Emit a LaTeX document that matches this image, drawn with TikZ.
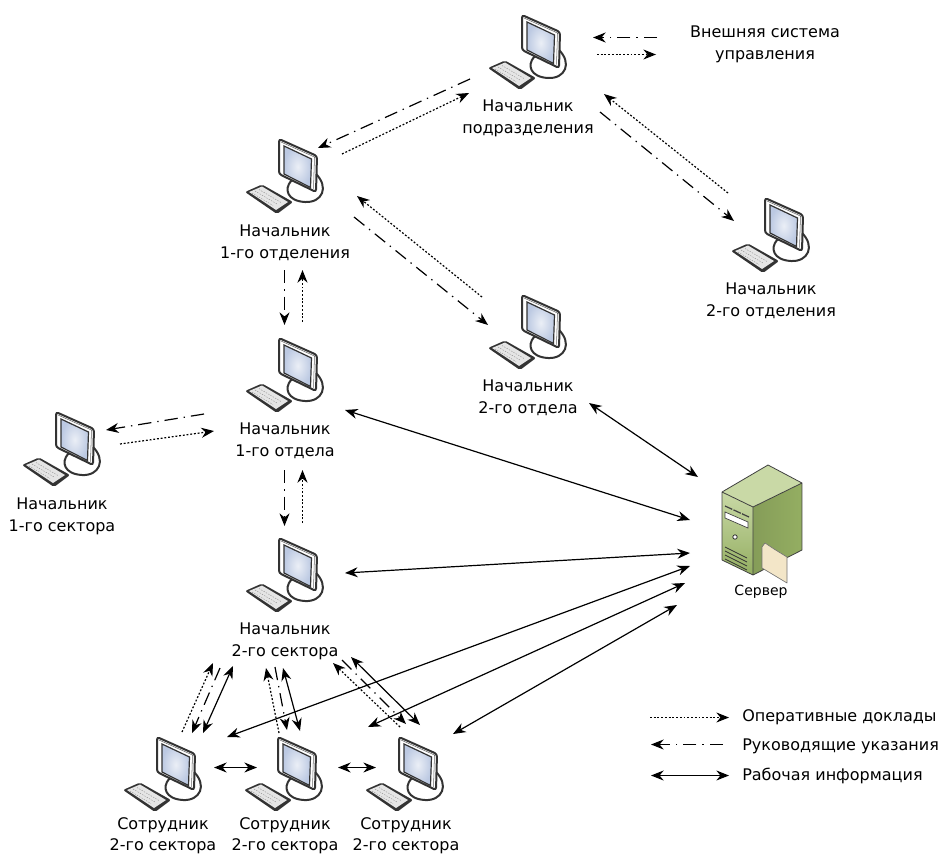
\documentclass[tikz,border=0pt]{standalone}
\usepackage{fontspec}
\setmainfont{DejaVu Sans}
\usetikzlibrary{arrows.meta,calc}

\definecolor{cframe}{HTML}{333333}
\definecolor{cscreen}{HTML}{BCC9E2}
\definecolor{cgreen}{HTML}{94AE62}
\definecolor{cgreenl}{HTML}{C9D9A6}
\definecolor{cfolder}{HTML}{F3E6C8}

\tikzset{
  lbl/.style={font=\fontsize{12}{16.5}\selectfont,align=center,inner sep=0pt},
  tipped/.style={line width=0.9pt,-{Stealth[length=9.5pt,width=7.5pt]}},
  report/.style={tipped,dash pattern=on 1.4pt off 1.4pt},
  order/.style={tipped,dash pattern=on 10pt off 4.5pt on 1pt off 4.5pt},
  work/.style={line width=0.9pt,{Stealth[length=9.5pt,width=7.5pt]}-{Stealth[length=9.5pt,width=7.5pt]}},
  comp/.pic={
    \draw[cframe,line width=1.5pt,fill=white] (12,42) .. controls (5,50) and (8,62) .. (26,63)
      .. controls (43,64) and (51,48) .. (36,34) -- cycle;
    \fill[cframe,rounded corners=1.5pt] (-34,53) -- (-17,45.5) -- (14,63) -- (-2,75) -- cycle;
    \fill[black!10] (-30,53) -- (-17,47.5) -- (9,63) -- (-3,71) -- cycle;
    \draw[black!45,line width=0.3pt,dash pattern=on 1pt off 1pt] (-24,52) -- (-2,65) (-20,50.5) -- (2,63.5) (-27,54) -- (-6,66.5);
    \draw[cframe,line width=1.5pt,fill=white,rounded corners=2pt] (0,0) -- (38,17) -- (37,53) -- (0,35) -- cycle;
    \draw[black!60,line width=0.4pt] (2,3) -- (35.5,18) -- (34.5,49.5);
    \shade[inner color=cscreen!30,outer color=cscreen,draw=cframe,line width=0.9pt] (5,7) -- (32.5,20) -- (31.5,48.5) -- (5,35) -- cycle;
  },
  srv/.pic={
    \shade[left color=cgreen!90!black,right color=cgreen] (80,-9) -- (80,58) -- (31,83) -- (31,15) -- cycle;
    \fill[cgreenl] (46,-27) -- (80,-9) -- (31,15) -- (0,0) -- cycle;
    \shade[top color=cgreenl,bottom color=cgreen] (0,0) -- (31,15) -- (31,83) -- (0,68) -- cycle;
    \draw[black!75,line width=0.6pt,line join=round] (0,0) -- (46,-27) -- (80,-9) -- (80,58) -- (31,83) -- (0,68) -- cycle (0,0) -- (31,15) -- (80,-9) (31,15) -- (31,83);
    \draw[black!75,line width=0.9pt,dash pattern=on 6pt off 1pt] (3,14) -- (27,25);
    \draw[black!75,line width=0.5pt,fill=white] (3,20) -- (26,30) -- (26,36) -- (3,26) -- cycle;
    \draw[black!80,line width=0.6pt,fill=white] (13,45) circle (2.2);
    \draw[black!80,line width=0.6pt] (3,55) -- (25,66) (3,59) -- (25,70) (3,63) -- (25,74) (3,67) -- (25,78);
    \draw[black!55,line width=0.5pt,fill=cfolder,line join=round] (40,55) -- (43,51) -- (52,57) -- (65,65) -- (65,91) -- (40,76) -- cycle;
  },
}

\begin{document}
\begin{tikzpicture}[x=0.75pt,y=-0.75pt]
\useasboundingbox (0,0) rectangle (941,856);

\pic (pcPodr) at (522,15) {comp};
\pic (pcOtdn) at (279,139) {comp};
\pic (pcOtdb) at (765,198) {comp};
\pic (pcOtlb) at (522,295) {comp};
\pic (pcOtla) at (279,338) {comp};
\pic (pcSeca) at (56,412) {comp};
\pic (pcSecb) at (279,538) {comp};
\pic (pcEmpa) at (157,737) {comp};
\pic (pcEmpb) at (278,737) {comp};
\pic (pcEmpc) at (399,737) {comp};
\pic (pcSrv) at (722,492) {srv};

\node[lbl] (Podr) at (528,118) {Начальник\\подразделения};
\node[lbl] (Otdn) at (285,243) {Начальник\\1-го отделения};
\node[lbl] (Otdb) at (771,301) {Начальник\\2-го отделения};
\node[lbl] (Otlb) at (528,398) {Начальник\\2-го отдела};
\node[lbl] (Otla) at (285,441) {Начальник\\1-го отдела};
\node[lbl] (Seca) at (62,516) {Начальник\\1-го сектора};
\node[lbl] (Secb) at (285,641) {Начальник\\2-го сектора};
\node[lbl,font=\fontsize{12}{15.5}\selectfont] (Empa) at (163,836) {Сотрудник\\2-го сектора};
\node[lbl,font=\fontsize{12}{15.5}\selectfont] (Empb) at (285,836) {Сотрудник\\2-го сектора};
\node[lbl,font=\fontsize{12}{15.5}\selectfont] (Empc) at (406,836) {Сотрудник\\2-го сектора};
\node[lbl,font=\fontsize{10.5}{12}\selectfont] (Srv) at (761,592) {Сервер};
\node[lbl] (Ext) at (765,44) {Внешняя система\\управления};

\node[lbl,anchor=west] (LgRep) at (742,717) {Оперативные доклады};
\node[lbl,anchor=west] (LgOrd) at (742,746) {Руководящие указания};
\node[lbl,anchor=west] (LgWrk) at (742,776) {Рабочая информация};

% external system
\coordinate (ExtOa) at (657,37.5);
\coordinate (ExtOb) at (593,37.5);
\coordinate (ExtRa) at (597,54.5);
\coordinate (ExtRb) at (656,54.5);
\draw[order] (ExtOa) -- (ExtOb);
\draw[report] (ExtRa) -- (ExtRb);

% head to departments
\coordinate (PaOa) at (470,79);
\coordinate (PaOb) at (318,148);
\coordinate (PaRa) at (342,154);
\coordinate (PaRb) at (469,93);
\draw[order] (PaOa) -- (PaOb);
\draw[report] (PaRa) -- (PaRb);

\coordinate (PbRa) at (728,193);
\coordinate (PbRb) at (604,94);
\coordinate (PbOa) at (600,112);
\coordinate (PbOb) at (734,221);
\draw[report] (PbRa) -- (PbRb);
\draw[order] (PbOa) -- (PbOb);

\coordinate (NbRa) at (482,297);
\coordinate (NbRb) at (357,196);
\coordinate (NbOa) at (354,217);
\coordinate (NbOb) at (488,325);
\draw[report] (NbRa) -- (NbRb);
\draw[order] (NbOa) -- (NbOb);

\coordinate (NaOa) at (284.5,270);
\coordinate (NaOb) at (284.5,325);
\coordinate (NaRa) at (302.5,322);
\coordinate (NaRb) at (302.5,270);
\draw[order] (NaOa) -- (NaOb);
\draw[report] (NaRa) -- (NaRb);

\coordinate (LaOa) at (204,414);
\coordinate (LaOb) at (106,430);
\coordinate (LaRa) at (120,444);
\coordinate (LaRb) at (214,431);
\draw[order] (LaOa) -- (LaOb);
\draw[report] (LaRa) -- (LaRb);

\coordinate (LbOa) at (284.5,470);
\coordinate (LbOb) at (284.5,526);
\coordinate (LbRa) at (302.5,523);
\coordinate (LbRb) at (302.5,470);
\draw[order] (LbOa) -- (LbOb);
\draw[report] (LbRa) -- (LbRb);

% sector to staff
\coordinate (EaRa) at (182,732);
\coordinate (EaRb) at (213,663);
\coordinate (EaOa) at (220,668);
\coordinate (EaOb) at (192,733);
\coordinate (EaWa) at (233,666);
\coordinate (EaWb) at (203,733);
\draw[report] (EaRa) -- (EaRb);
\draw[order] (EaOa) -- (EaOb);
\draw[work] (EaWa) -- (EaWb);

\coordinate (EbRa) at (279,733);
\coordinate (EbRb) at (266,668);
\coordinate (EbOa) at (275,667);
\coordinate (EbOb) at (287,730);
\coordinate (EbWa) at (283,668);
\coordinate (EbWb) at (300,731);
\draw[report] (EbRa) -- (EbRb);
\draw[order] (EbOa) -- (EbOb);
\draw[work] (EbWa) -- (EbWb);

\coordinate (EcRa) at (400,727);
\coordinate (EcRb) at (333,663);
\coordinate (EcOa) at (342,660);
\coordinate (EcOb) at (406,724);
\coordinate (EcWa) at (351,657);
\coordinate (EcWb) at (420,725);
\draw[report] (EcRa) -- (EcRb);
\draw[order] (EcOa) -- (EcOb);
\draw[work] (EcWa) -- (EcWb);

\coordinate (HaL) at (214,767.5);
\coordinate (HaR) at (257,767.5);
\coordinate (HbL) at (338,767.5);
\coordinate (HbR) at (376,767.5);
\draw[work] (HaL) -- (HaR);
\draw[work] (HbL) -- (HbR);

% server links
\coordinate (SaA) at (345,410);
\coordinate (SaB) at (690,520);
\coordinate (SbA) at (589,403);
\coordinate (SbB) at (698,477);
\coordinate (ScA) at (345,573);
\coordinate (ScB) at (690,553);
\coordinate (SdA) at (227,737);
\coordinate (SdB) at (690,566);
\coordinate (SeA) at (368,727);
\coordinate (SeB) at (685,583);
\coordinate (SfA) at (453,734);
\coordinate (SfB) at (677,605);
\draw[work] (SaA) -- (SaB);
\draw[work] (SbA) -- (SbB);
\draw[work] (ScA) -- (ScB);
\draw[work] (SdA) -- (SdB);
\draw[work] (SeA) -- (SeB);
\draw[work] (SfA) -- (SfB);

% legend
\coordinate (LgRa) at (650,717.5);
\coordinate (LgRb) at (729,717.5);
\coordinate (LgOa) at (723,744.5);
\coordinate (LgOb) at (651,744.5);
\coordinate (LgWa) at (651,775.5);
\coordinate (LgWb) at (729,775.5);
\draw[report] (LgRa) -- (LgRb);
\draw[order] (LgOa) -- (LgOb);
\draw[work] (LgWa) -- (LgWb);

\end{tikzpicture}
\end{document}
